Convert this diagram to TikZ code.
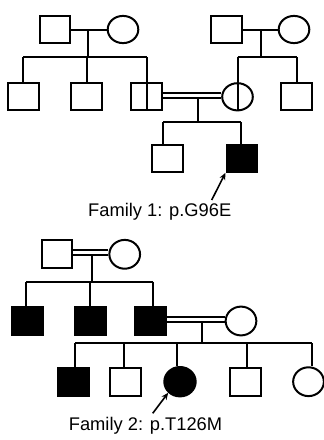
\documentclass[tikz,border=0pt]{standalone}
\usepackage{fontspec}
\setmainfont{Liberation Sans}
\usetikzlibrary{shapes.geometric,arrows.meta}
\begin{document}
\begin{tikzpicture}[x=1pt,y=-1pt,line width=2pt,
  mA/.style={draw,rectangle,inner sep=0pt,minimum width=30.6pt,minimum height=27.2pt},
  fA/.style={draw,ellipse,inner sep=0pt,minimum width=30.6pt,minimum height=27.2pt},
  mB/.style={draw,rectangle,inner sep=0pt,minimum width=30.7pt,minimum height=28.1pt},
  fB/.style={draw,ellipse,inner sep=0pt,minimum width=30.7pt,minimum height=28.8pt},
  aff/.style={fill=black},
  lbl/.style={font=\fontsize{18.3}{20}\selectfont,anchor=base,inner sep=0pt},
  pointer/.style={-{Stealth[length=7pt,width=6pt]},line width=1.6pt}]
\useasboundingbox (0,0) rectangle (324,440);

%% ---------------- Family 1 ----------------
\node[mA] (a1) at (55,29.5) {};
\node[fA] (a2) at (123,29.5) {};
\node[mA] (b1) at (226.7,29.5) {};
\node[fA] (b2) at (294,29.5) {};
\node[mA] (c1) at (23.3,96.8) {};
\node[mA] (c2) at (86.5,96.8) {};
\node[mA] (c3) at (146.7,96.8) {};
\node[fA] (d1) at (237.5,96.8) {};
\node[mA] (d2) at (296.7,96.8) {};
\node[mA] (e1) at (167.5,158.5) {};
\node[mA,aff] (e2) at (241.8,158.2) {};

% marriages
\draw (a1.east) -- (a2.west);
\draw (b1.east) -- (b2.west);
\coordinate (ma) at (88,29.5);
\coordinate (mb) at (261,29.5);
\coordinate (sa) at (88,57.2);
\coordinate (sb) at (261,57.2);
\draw (ma) -- (sa);
\draw (mb) -- (sb);
\coordinate (sa1) at (23.3,57.2);
\coordinate (sa3) at (146.7,57.2);
\draw (sa1) -- (sa3);
\draw (sa1) -- (c1.north);
\draw (86.5,57.2) -- (c2.north);
\draw (sa3) -- (c3.north);
\draw (c3.north) -- (c3.south);
\coordinate (sb1) at (237.5,57.2);
\coordinate (sb2) at (296.7,57.2);
\draw (sb1) -- (sb2);
\draw (sb1) -- (d1.north);
\draw (sb2) -- (d2.north);
\draw (d1.north) -- (d1.south);
% consanguineous marriage
\draw (c3.east |- 0,93.3) -- (d1.west |- 0,93.3);
\draw (c3.east |- 0,98.1) -- (d1.west |- 0,98.1);
\coordinate (mc) at (197.7,98.1);
\coordinate (sc) at (197.7,122.3);
\draw (mc) -- (sc);
\coordinate (sc1) at (163.3,122.3);
\coordinate (sc2) at (240.5,122.3);
\draw (sc1) -- (sc2);
\draw (sc1) -- (163.3,122.3 |- e1.north);
\draw (sc2) -- (240.5,122.3 |- e2.north);
% proband
\coordinate (p1) at (211.7,200);
\draw[pointer] (p1) -- (e2.south west);
\node[lbl] (t1) at (159.7,216.5) {Family 1: p.G96E};

%% ---------------- Family 2 ----------------
\node[mB] (g1) at (57,254) {};
\node[fB] (g2) at (124.7,254.3) {};
\draw (g1.east |- 0,250.3) -- (g2.west |- 0,250.3);
\draw (g1.east |- 0,254.9) -- (g2.west |- 0,254.9);
\coordinate (mg) at (92.3,254.9);
\coordinate (sg) at (92.3,281.7);
\draw (mg) -- (sg);

\node[mB,aff] (h1) at (27.7,321) {};
\node[mB,aff] (h2) at (90.3,321) {};
\node[mB,aff] (h3) at (150.5,321) {};
\node[fB] (h4) at (241,321) {};
\coordinate (sh1) at (26,281.7);
\coordinate (sh3) at (153.3,281.7);
\draw (sh1) -- (sh3);
\draw (sh1) -- (26,281.7 |- h1.north);
\draw (90.3,281.7) -- (h2.north);
\draw (sh3) -- (153.3,281.7 |- h3.north);
\draw (h3.east |- 0,316.7) -- (h4.west |- 0,316.7);
\draw (h3.east |- 0,321.7) -- (h4.west |- 0,321.7);
\coordinate (mh) at (201.7,321.7);
\coordinate (sh) at (201.7,343.3);
\draw (mh) -- (sh);

\node[mB,aff] (k1) at (73.7,381.7) {};
\node[mB] (k2) at (125.8,381.7) {};
\node[fB,aff,minimum width=31.4pt,minimum height=29.4pt] (k3) at (180,381.7) {};
\node[mB] (k4) at (245.8,381.7) {};
\node[fB] (k5) at (308.5,381.7) {};
\coordinate (sk1) at (75,343.3);
\coordinate (sk5) at (311.7,343.3);
\draw (sk1) -- (sk5);
\draw (sk1) -- (75,343.3 |- k1.north);
\draw (124.3,343.3) -- (124.3,343.3 |- k2.north);
\draw (176.7,343.3) -- (176.7,343.3 |- k3.north);
\draw (246.7,343.3) -- (246.7,343.3 |- k4.north);
\draw (sk5) -- (311.7,343.3 |- k5.north);
\coordinate (p2) at (152.7,413.3);
\draw[pointer] (p2) -- (k3.south west);
\node[lbl] (t2) at (145.5,430) {Family 2: p.T126M};
\end{tikzpicture}
\end{document}
